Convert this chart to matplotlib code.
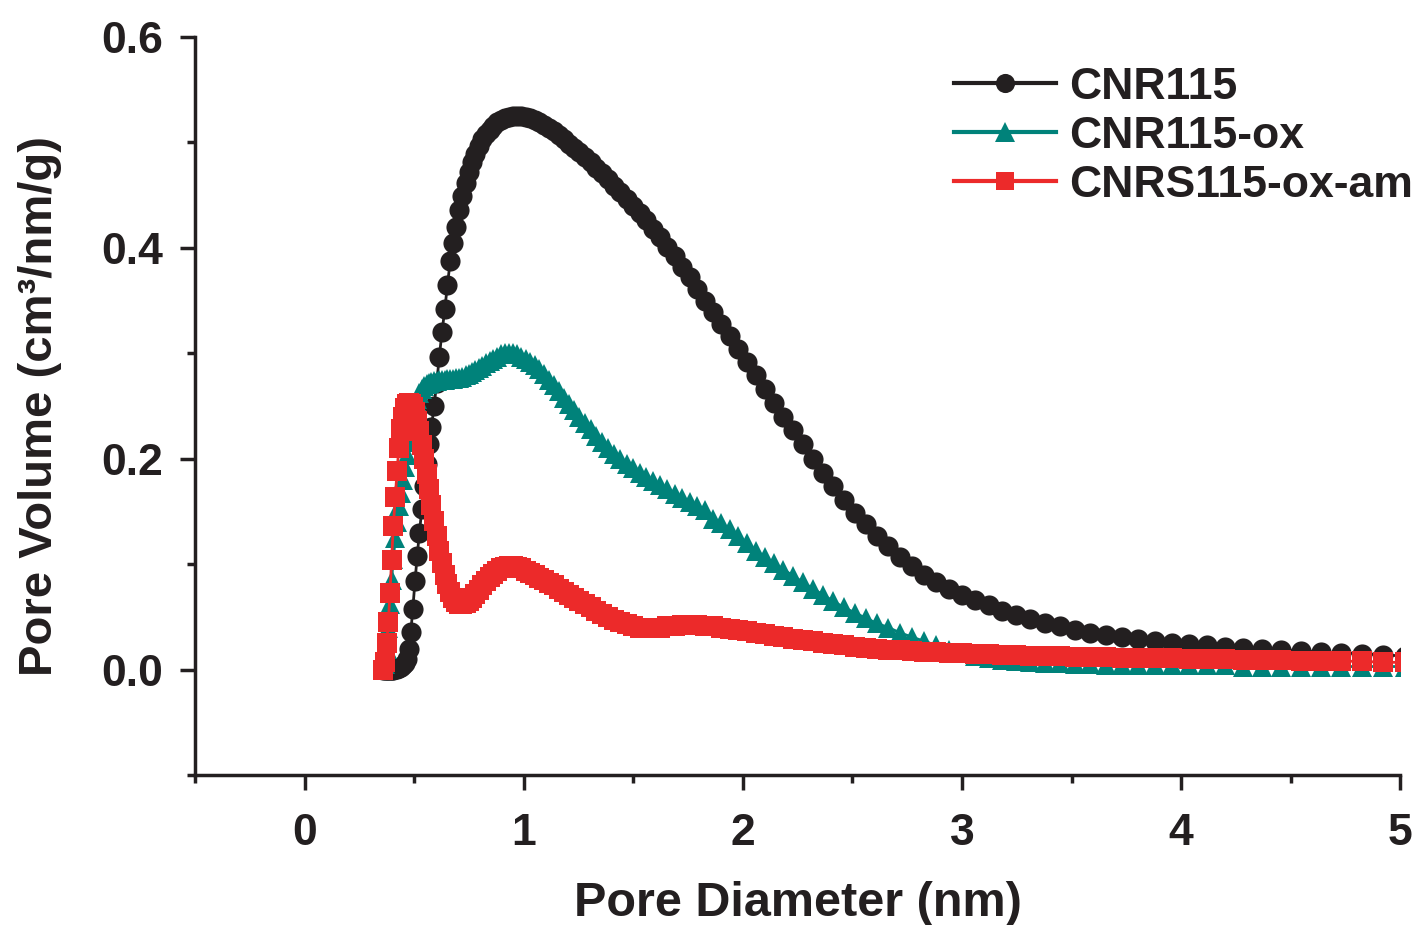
import matplotlib
matplotlib.use("Agg")
import matplotlib.pyplot as plt
from matplotlib.ticker import MultipleLocator

plt.rcParams['font.family'] = ['Liberation Sans', 'DejaVu Sans']
plt.rcParams['font.weight'] = 'bold'

# pore diameter grid (nm), shared by all three samples
pore_d = [
    0.360, 0.367, 0.375, 0.382, 0.390, 0.397, 0.405, 0.414, 0.422, 0.430,
    0.439, 0.448, 0.457, 0.466, 0.475, 0.485, 0.494, 0.504, 0.514, 0.524,
    0.535, 0.546, 0.557, 0.568, 0.579, 0.591, 0.603, 0.615, 0.627, 0.640,
    0.652, 0.665, 0.679, 0.692, 0.706, 0.720, 0.735, 0.750, 0.765, 0.780,
    0.796, 0.811, 0.828, 0.844, 0.861, 0.878, 0.896, 0.914, 0.932, 0.951,
    0.970, 0.989, 1.009, 1.029, 1.050, 1.071, 1.092, 1.114, 1.136, 1.159,
    1.182, 1.206, 1.230, 1.254, 1.280, 1.305, 1.331, 1.358, 1.385, 1.413,
    1.441, 1.470, 1.500, 1.530, 1.560, 1.591, 1.623, 1.656, 1.689, 1.723,
    1.757, 1.792, 1.828, 1.865, 1.902, 1.940, 1.979, 2.018, 2.059, 2.100,
    2.142, 2.185, 2.229, 2.273, 2.319, 2.365, 2.412, 2.461, 2.510, 2.560,
    2.611, 2.664, 2.717, 2.771, 2.827, 2.883, 2.941, 3.000, 3.060, 3.121,
    3.183, 3.247, 3.312, 3.378, 3.446, 3.515, 3.585, 3.657, 3.730, 3.804,
    3.880, 3.958, 4.037, 4.118, 4.200, 4.284, 4.370, 4.457, 4.546, 4.637,
    4.730, 4.825, 4.921, 5.020,
]

cnr115 = [
    0.000, 0.000, 0.000, 0.000, 0.000, 0.000, 0.000, 0.001, 0.001, 0.002,
    0.003, 0.004, 0.006, 0.010, 0.020, 0.036, 0.058, 0.084, 0.108, 0.130,
    0.152, 0.174, 0.195, 0.214, 0.230, 0.250, 0.272, 0.297, 0.320, 0.342,
    0.365, 0.388, 0.405, 0.420, 0.436, 0.449, 0.462, 0.472, 0.481, 0.489,
    0.497, 0.503, 0.508, 0.512, 0.516, 0.519, 0.521, 0.523, 0.524, 0.525,
    0.525, 0.525, 0.524, 0.523, 0.521, 0.519, 0.517, 0.514, 0.511, 0.507,
    0.503, 0.499, 0.495, 0.491, 0.486, 0.481, 0.476, 0.471, 0.465, 0.459,
    0.453, 0.446, 0.440, 0.433, 0.426, 0.418, 0.410, 0.401, 0.392, 0.382,
    0.372, 0.361, 0.350, 0.339, 0.328, 0.316, 0.304, 0.292, 0.279, 0.266,
    0.253, 0.240, 0.227, 0.214, 0.200, 0.187, 0.174, 0.161, 0.149, 0.138,
    0.127, 0.117, 0.107, 0.098, 0.090, 0.083, 0.077, 0.071, 0.066, 0.061,
    0.056, 0.052, 0.048, 0.044, 0.041, 0.038, 0.035, 0.033, 0.031, 0.029,
    0.027, 0.025, 0.024, 0.023, 0.022, 0.021, 0.020, 0.019, 0.018, 0.017,
    0.016, 0.015, 0.014, 0.013,
]

cnr115_ox = [
    0.000, 0.005, 0.020, 0.040, 0.062, 0.085, 0.105, 0.125, 0.140, 0.155,
    0.168, 0.180, 0.192, 0.204, 0.216, 0.228, 0.240, 0.250, 0.257, 0.262,
    0.266, 0.269, 0.271, 0.272, 0.273, 0.274, 0.274, 0.275, 0.275, 0.275,
    0.276, 0.276, 0.276, 0.277, 0.277, 0.278, 0.279, 0.280, 0.282, 0.284,
    0.286, 0.288, 0.291, 0.293, 0.295, 0.297, 0.299, 0.300, 0.300, 0.300,
    0.299, 0.297, 0.295, 0.292, 0.289, 0.285, 0.280, 0.275, 0.270, 0.264,
    0.258, 0.252, 0.246, 0.240, 0.234, 0.228, 0.222, 0.216, 0.210, 0.205,
    0.200, 0.195, 0.191, 0.187, 0.183, 0.179, 0.175, 0.171, 0.167, 0.163,
    0.159, 0.155, 0.151, 0.143, 0.139, 0.133, 0.127, 0.120, 0.113, 0.107,
    0.101, 0.095, 0.089, 0.083, 0.077, 0.071, 0.065, 0.059, 0.054, 0.049,
    0.044, 0.040, 0.035, 0.031, 0.027, 0.023, 0.019, 0.016, 0.013, 0.011,
    0.009, 0.008, 0.007, 0.006, 0.006, 0.005, 0.005, 0.004, 0.004, 0.004,
    0.004, 0.004, 0.004, 0.004, 0.004, 0.003, 0.003, 0.003, 0.003, 0.003,
    0.003, 0.003, 0.003, 0.003,
]

cnrs115_ox_am = [
    0.000, 0.007, 0.025, 0.045, 0.073, 0.104, 0.136, 0.164, 0.188, 0.210,
    0.228, 0.240, 0.248, 0.252, 0.253, 0.252, 0.249, 0.244, 0.236, 0.226,
    0.213, 0.200, 0.186, 0.171, 0.156, 0.141, 0.127, 0.113, 0.101, 0.090,
    0.081, 0.074, 0.068, 0.064, 0.062, 0.062, 0.063, 0.065, 0.068, 0.072,
    0.076, 0.080, 0.084, 0.088, 0.091, 0.094, 0.096, 0.097, 0.098, 0.098,
    0.097, 0.096, 0.094, 0.092, 0.090, 0.087, 0.085, 0.082, 0.080, 0.077,
    0.074, 0.071, 0.068, 0.065, 0.062, 0.059, 0.056, 0.053, 0.050, 0.047,
    0.045, 0.043, 0.041, 0.040, 0.040, 0.040, 0.040, 0.041, 0.041, 0.042,
    0.042, 0.042, 0.041, 0.041, 0.040, 0.039, 0.038, 0.037, 0.035, 0.034,
    0.032, 0.031, 0.029, 0.028, 0.027, 0.025, 0.024, 0.023, 0.022, 0.021,
    0.020, 0.019, 0.019, 0.018, 0.017, 0.017, 0.016, 0.016, 0.015, 0.015,
    0.014, 0.014, 0.013, 0.013, 0.013, 0.012, 0.012, 0.012, 0.011, 0.011,
    0.011, 0.011, 0.010, 0.010, 0.010, 0.009, 0.009, 0.009, 0.008, 0.008,
    0.008, 0.008, 0.007, 0.007,
]

series = [
    ('CNR115', cnr115, '#231f20', 'o', 14.5),
    ('CNR115-ox', cnr115_ox, '#00827a', '^', 15),
    ('CNRS115-ox-am', cnrs115_ox_am, '#ec2a2a', 's', 14),
]

fig = plt.figure(figsize=(14.13, 9.25), dpi=100)
ax = fig.add_axes([0.138, 0.162, 0.853, 0.798])

for name, vals, color, mk, ms in series:
    ax.plot(pore_d, vals, color=color, marker=mk, markersize=ms, linewidth=2,
            markeredgewidth=0, label=name)

ax.set_xlim(-0.5, 5)
ax.set_ylim(-0.1, 0.6)
ax.xaxis.set_major_locator(MultipleLocator(1))
ax.xaxis.set_minor_locator(MultipleLocator(0.5))
ax.yaxis.set_major_locator(MultipleLocator(0.2))
ax.yaxis.set_minor_locator(MultipleLocator(0.1))
ax.set_yticks([0.0, 0.2, 0.4, 0.6])
ax.set_yticklabels(['0.0', '0.2', '0.4', '0.6'])

for side in ['top', 'right']:
    ax.spines[side].set_visible(False)
for side in ['left', 'bottom']:
    ax.spines[side].set_linewidth(2.5)
    ax.spines[side].set_color('#231f20')

ax.tick_params(which='major', direction='out', length=11, width=2.5, labelsize=32,
               color='#231f20', labelcolor='#231f20')
ax.tick_params(which='minor', direction='out', length=6, width=2.5, color='#231f20')
ax.tick_params(axis='y', which='major', pad=12)
ax.tick_params(axis='x', which='major', pad=16)

ax.set_xlabel('Pore Diameter (nm)', fontsize=35, fontweight='bold', color='#231f20', labelpad=20)
ax.set_ylabel('Pore Volume (cm³/nm/g)', fontsize=34, fontweight='bold', color='#231f20', labelpad=28)

leg = ax.legend(loc='upper right', bbox_to_anchor=(1.044, 1.014), frameon=False, fontsize=32,
                handlelength=2.3, handletextpad=0.3, labelspacing=0.18, markerscale=0.95)
for line in leg.get_lines():
    line.set_linewidth(3)
for t in leg.get_texts():
    t.set_color('#231f20')

fig.savefig('out.png', dpi=100)
